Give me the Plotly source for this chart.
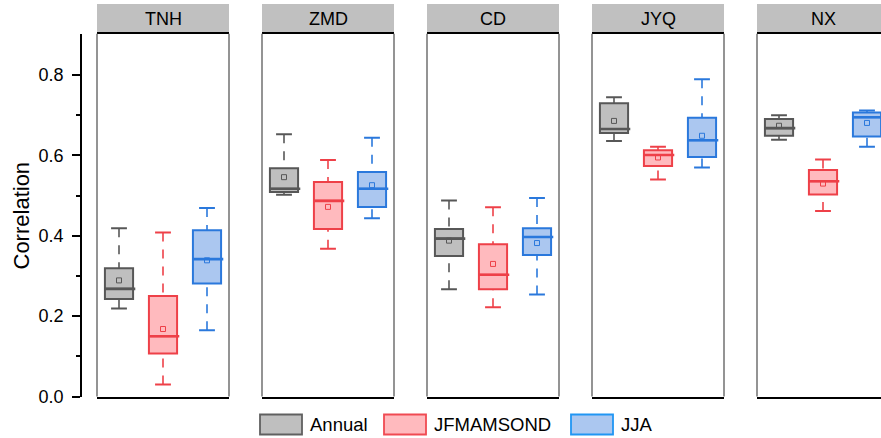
import plotly.graph_objects as go

# Stations (one panel each) and seasons (one box each)
stations = ["TNH", "ZMD", "CD", "JYQ", "NX"]
seasons = ["Annual", "JFMAMSOND", "JJA"]

# Five-number summaries plus mean, per station
annual_lower = [0.219, 0.502, 0.267, 0.636, 0.639]
annual_q1 = [0.243, 0.509, 0.350, 0.656, 0.649]
annual_median = [0.268, 0.517, 0.393, 0.666, 0.668]
annual_q3 = [0.319, 0.568, 0.417, 0.730, 0.691]
annual_upper = [0.419, 0.653, 0.488, 0.745, 0.700]
annual_mean = [0.289, 0.546, 0.388, 0.686, 0.674]

jfm_lower = [0.030, 0.368, 0.222, 0.540, 0.462]
jfm_q1 = [0.107, 0.417, 0.267, 0.574, 0.503]
jfm_median = [0.150, 0.487, 0.303, 0.601, 0.536]
jfm_q3 = [0.250, 0.534, 0.379, 0.613, 0.564]
jfm_upper = [0.408, 0.589, 0.471, 0.622, 0.590]
jfm_mean = [0.168, 0.472, 0.330, 0.595, 0.530]

jja_lower = [0.165, 0.444, 0.254, 0.570, 0.622]
jja_q1 = [0.281, 0.472, 0.352, 0.596, 0.647]
jja_median = [0.342, 0.517, 0.397, 0.638, 0.695]
jja_q3 = [0.414, 0.559, 0.419, 0.694, 0.707]
jja_upper = [0.469, 0.644, 0.494, 0.790, 0.712]
jja_mean = [0.339, 0.526, 0.382, 0.649, 0.681]

y_ticks = [0.0, 0.2, 0.4, 0.6, 0.8]

fill_colors = ["#bfbfbf", "#ffbabe", "#abc7f0"]
line_colors = ["#575757", "#ee4048", "#2a78dc"]
legend_edges = ["#606060", "#f04a52", "#2196f3"]

stats = [
    (annual_lower, annual_q1, annual_median, annual_q3, annual_upper, annual_mean),
    (jfm_lower, jfm_q1, jfm_median, jfm_q3, jfm_upper, jfm_mean),
    (jja_lower, jja_q1, jja_median, jja_q3, jja_upper, jja_mean),
]

W, H = 881, 438
FONT = "Liberation Sans, Arial, sans-serif"

panel_left = [97, 262, 427, 592, 757]
panel_w = 132
px_per_unit = panel_w / 3.0
plot_top, plot_bottom = 33.7, 396.5
strip_top = 4

box_w = 0.64
cap_w = 0.36

fig = go.Figure()
shapes = []
annotations = []

for i, st in enumerate(stations):
    ax = "x" if i == 0 else f"x{i + 1}"
    for j, season in enumerate(seasons):
        lo, q1, med, q3, hi, mn = (s[i] for s in stats[j])
        pos = j + 1
        c = line_colors[j]
        # dashed whiskers
        fig.add_trace(go.Scatter(
            x=[pos, pos, None, pos, pos], y=[hi, q3, None, lo, q1],
            mode="lines", line=dict(color=c, width=1.6, dash="9px,8px"),
            xaxis=ax, yaxis="y", showlegend=False, hoverinfo="skip"))
        # whisker caps
        fig.add_trace(go.Scatter(
            x=[pos - cap_w / 2, pos + cap_w / 2, None, pos - cap_w / 2, pos + cap_w / 2],
            y=[lo, lo, None, hi, hi],
            mode="lines", line=dict(color=c, width=2),
            xaxis=ax, yaxis="y", showlegend=False, hoverinfo="skip"))
        # box body
        fig.add_trace(go.Box(
            x=[pos], q1=[q1], median=[med], q3=[q3],
            lowerfence=[q1], upperfence=[q3],
            width=box_w, whiskerwidth=0,
            fillcolor=fill_colors[j], line=dict(color=c, width=2),
            boxpoints=False, name=season,
            xaxis=ax, yaxis="y", showlegend=False))
        # median (slightly heavier)
        fig.add_trace(go.Scatter(
            x=[pos - box_w / 2, pos + box_w / 2 + 0.05], y=[med, med],
            mode="lines", line=dict(color=c, width=2.6),
            xaxis=ax, yaxis="y", showlegend=False, hoverinfo="skip"))
        # mean
        fig.add_trace(go.Scatter(
            x=[pos], y=[mn], mode="markers",
            marker=dict(symbol="square-open", size=5, color=c, line=dict(width=1)),
            xaxis=ax, yaxis="y", showlegend=False, hoverinfo="skip"))

layout_axes = {}
for i, st in enumerate(stations):
    left = panel_left[i]
    right = min(left + panel_w, W)
    clipped = left + panel_w > W
    xr = [0.5, 0.5 + (right - left) / px_per_unit]
    key = "xaxis" if i == 0 else f"xaxis{i + 1}"
    layout_axes[key] = dict(
        domain=[left / W, right / W], range=xr, anchor="y", automargin=False,
        showgrid=False, zeroline=False, showticklabels=False, ticks="",
        showline=True, linecolor="black", linewidth=1.5, mirror=True)
    xd = "x domain" if i == 0 else f"x{i + 1} domain"
    # panel side borders
    for xv in ([0] if clipped else [0, 1]):
        shapes.append(dict(type="line", xref=xd, yref="paper", x0=xv, x1=xv,
                           y0=1 - plot_bottom / H, y1=1 - plot_top / H,
                           line=dict(color="#707070", width=1.5), layer="above"))
    # strip header
    shapes.append(dict(type="rect", xref=xd, yref="paper", x0=0, x1=1.05 if clipped else 1,
                       y0=1 - plot_top / H, y1=1 - strip_top / H,
                       fillcolor="#c0c0c0", line=dict(width=0), layer="below"))
    annotations.append(dict(text=st, xref="paper", yref="paper",
                            x=(left + panel_w / 2) / W, y=1 - (strip_top + plot_top) / 2 / H,
                            xanchor="center", yanchor="middle", showarrow=False,
                            font=dict(family=FONT, size=18, color="black")))

# y-axis title
annotations.append(dict(text="Correlation", xref="paper", yref="paper",
                        x=21 / W, y=1 - 215.5 / H,
                        textangle=-90, xanchor="center", yanchor="middle", showarrow=False,
                        font=dict(family=FONT, size=22, color="black")))

# legend row
legend_x = [260, 384, 571]
for j, season in enumerate(seasons):
    x0 = legend_x[j]
    shapes.append(dict(type="rect", xref="paper", yref="paper",
                       x0=x0 / W, x1=(x0 + 42) / W, y0=1 - 434.5 / H, y1=1 - 414.5 / H,
                       fillcolor=fill_colors[j], line=dict(color=legend_edges[j], width=1.8)))
    annotations.append(dict(text=season, xref="paper", yref="paper",
                            x=(x0 + 48) / W, y=1 - 424.5 / H,
                            xanchor="left", yanchor="middle", showarrow=False,
                            font=dict(family=FONT, size=18.5, color="black")))

fig.update_layout(
    width=W, height=H,
    margin=dict(l=0, r=0, t=0, b=0, pad=0),
    paper_bgcolor="white", plot_bgcolor="white",
    boxmode="overlay",
    showlegend=False,
    shapes=shapes, annotations=annotations,
    yaxis=dict(
        domain=[1 - plot_bottom / H, 1 - plot_top / H],
        range=[0, (396.3 - plot_top) / 401.5],
        anchor="free", position=81 / W, automargin=False,
        tickvals=y_ticks, ticktext=[f"{v:.1f}" for v in y_ticks],
        ticks="outside", ticklen=8, tickwidth=1.8, tickcolor="black",
        ticklabelstandoff=5,
        minor=dict(tickvals=[0.1, 0.3, 0.5, 0.7], ticks="outside", ticklen=4,
                   tickwidth=1.8, tickcolor="black"),
        showline=True, linecolor="black", linewidth=1.8,
        showgrid=False, zeroline=False,
        tickfont=dict(family=FONT, size=18, color="black")),
    **layout_axes,
)

fig.write_html("out.html")
